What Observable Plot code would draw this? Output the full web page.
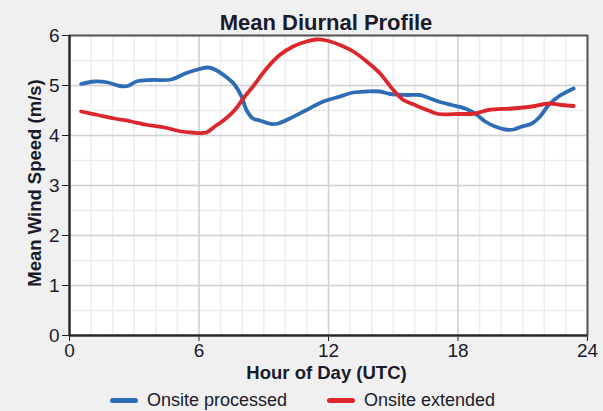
<!DOCTYPE html>
<html><head><meta charset="utf-8">
<script src="https://cdn.jsdelivr.net/npm/d3@7"></script>
<script src="https://cdn.jsdelivr.net/npm/@observablehq/plot@0.6"></script>
<style>
body{margin:0;background:#f0f0f0;font-family:"Liberation Sans",Arial,sans-serif;}
#wrap{position:relative;width:603px;height:411px;overflow:hidden;background:#f0f0f0;}
#title{position:absolute;top:10px;left:0;width:652px;text-align:center;font-weight:bold;font-size:22px;line-height:25px;color:#1a1a2a;}
#chart{position:absolute;top:0;left:0;}
#xlabel{position:absolute;top:362px;left:0;width:653px;text-align:center;font-weight:bold;font-size:18.5px;line-height:22px;color:#1a1a2a;}
#ylabel{position:absolute;left:35px;top:183px;transform:translate(-50%,-50%) rotate(-90deg);white-space:nowrap;font-weight:bold;font-size:18.5px;line-height:22px;color:#1a1a2a;}
.leg{position:absolute;top:389px;font-size:18px;line-height:22px;color:#1a1a2a;display:flex;align-items:center;}
.sw{display:inline-block;width:28px;height:5px;border-radius:3px;margin-right:9px;}
</style></head><body>
<div id="wrap">
  <div id="chart"></div>
  <div id="title">Mean Diurnal Profile</div>
  <div id="xlabel">Hour of Day (UTC)</div>
  <div id="ylabel">Mean Wind Speed (m/s)</div>
  <div class="leg" style="left:110px"><span class="sw" style="background:#2e6db5"></span>Onsite processed</div>
  <div class="leg" style="left:327px"><span class="sw" style="background:#dd262c"></span>Onsite extended</div>
</div>
<script>
const processedHours = [0.54,1.16,1.78,2.32,2.7,3.1,3.79,4.72,5.36,5.95,6.42,6.73,7.35,7.66,7.97,8.2,8.5,8.82,9.36,9.67,10.21,10.98,11.76,12.53,13.15,13.77,14.39,14.85,15.62,16.24,16.47,17.09,17.71,18.33,18.79,19.26,19.72,20.19,20.57,20.96,21.42,21.8,22.2,22.66,23.36];
const processedSpeed = [5.03,5.08,5.06,4.99,4.99,5.08,5.11,5.12,5.24,5.32,5.36,5.32,5.14,5.01,4.78,4.51,4.34,4.30,4.23,4.24,4.34,4.51,4.68,4.78,4.86,4.88,4.88,4.83,4.81,4.81,4.78,4.68,4.61,4.54,4.44,4.28,4.18,4.12,4.12,4.18,4.24,4.38,4.61,4.78,4.94];
const extendedHours = [0.54,1.31,2.09,2.86,3.63,4.41,5.18,5.65,6.34,6.73,7.19,7.66,8.12,8.5,9.13,9.74,10.36,10.98,11.45,11.91,12.53,13.15,13.77,14.39,15.0,15.47,16.0,16.63,17.09,18.02,18.79,19.41,20.5,21.42,22.2,22.82,23.36];
const extendedSpeed = [4.48,4.41,4.34,4.28,4.21,4.16,4.08,4.06,4.06,4.18,4.32,4.51,4.78,4.98,5.34,5.61,5.78,5.88,5.92,5.90,5.81,5.68,5.48,5.24,4.91,4.71,4.61,4.50,4.43,4.43,4.44,4.51,4.54,4.58,4.64,4.61,4.59];
const xTicks = [0,6,12,18,24];
const yTicks = [0,1,2,3,4,5,6];

const processed = processedHours.map((h,i)=>({h, v: processedSpeed[i]}));
const extended = extendedHours.map((h,i)=>({h, v: extendedSpeed[i]}));
const minorX = d3.range(0,25,1);
const minorY = d3.range(0,6.01,0.5);

const plot = Plot.plot({
  width: 603, height: 390,
  marginLeft: 69, marginRight: 16, marginTop: 35, marginBottom: 55,
  style: {background: "transparent", fontSize: "19px", fontFamily: "Liberation Sans, Arial, sans-serif", color: "#1a1a2a"},
  x: {domain: [0,24], ticks: xTicks, tickSize: 6, tickPadding: 2, tickFormat: d3.format("d"), label: null},
  y: {domain: [0,6], ticks: yTicks, tickSize: 7, tickPadding: 3, tickFormat: d3.format("d"), label: null},
  marks: [
    Plot.frame({fill: "white", stroke: "none"}),
    Plot.ruleX(minorX, {stroke: "#ececec", strokeWidth: 1.5}),
    Plot.ruleY(minorY, {stroke: "#ececec", strokeWidth: 1.5}),
    Plot.ruleX(xTicks, {stroke: "#d2d2d2", strokeWidth: 1.5}),
    Plot.ruleY(yTicks, {stroke: "#d2d2d2", strokeWidth: 1.5}),
    Plot.frame({stroke: "#555", strokeWidth: 2}),
    Plot.ruleX([0], {stroke: "#222", strokeWidth: 2}),
    Plot.ruleY([0], {stroke: "#222", strokeWidth: 2}),
    Plot.line(processed, {x: "h", y: "v", stroke: "#2e6db5", strokeWidth: 3.8, curve: "catmull-rom"}),
    Plot.line(extended, {x: "h", y: "v", stroke: "#dd262c", strokeWidth: 3.8, curve: "catmull-rom"})
  ]
});
document.getElementById("chart").appendChild(plot);
</script>
</body></html>
